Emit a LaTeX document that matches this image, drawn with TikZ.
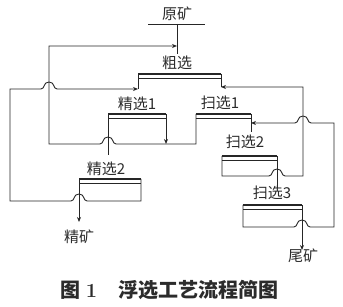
\documentclass[tikz,border=0pt]{standalone}
\usepackage{fontspec}
\newfontfamily\cjk{Noto Sans CJK SC}
\usepackage{tikz}
\usetikzlibrary{arrows.meta, calc}
\definecolor{fline}{HTML}{262626}
\definecolor{ftext}{HTML}{2B2B2B}
\tikzset{
  lbl/.style={font=\cjk\fontsize{15}{15}\selectfont, text=ftext, inner sep=0pt},
  captxt/.style={font=\cjk\bfseries\fontsize{20}{20}\selectfont, text=ftext, inner sep=0pt},
  flow/.style={draw=fline, line width=0.9pt},
  arr/.style={flow, -{Stealth[length=5pt, width=4pt]}},
  rarr/.style={flow, {Stealth[length=5pt, width=4pt]}-},
  celltop/.style={draw=fline, line width=2.2pt},
  cellin/.style={draw=fline, line width=0.6pt},
}
% jump over a crossing line; #2 = 1 going right, -1 going left
\newcommand{\hop}[2]{-- ($(#1)+({-8*#2},0)$) .. controls ($(#1)+({-4*#2},0)$) and ($(#1)+({-6*#2},-7)$) .. ($(#1)+(0,-7)$) .. controls ($(#1)+({6*#2},-7)$) and ($(#1)+({4*#2},0)$) .. ($(#1)+({8*#2},0)$)}
% flotation cell: double top line, corners named #1-l and #1-r
\newcommand{\cell}[4]{%
  \coordinate (#1-l) at (#2,#4);
  \coordinate (#1-r) at (#3,#4);
  \draw[celltop] (#1-l) -- (#1-r);
  \draw[cellin] ($(#1-l)+(0,4)$) -- ($(#1-r)+(0,4)$);
}

\begin{document}
\begin{tikzpicture}[x=1pt, y=-1pt]
  \useasboundingbox (0,0) rectangle (343,307);

  \node[lbl] (t-ore) at (177,14) {原矿};
  \node[lbl] (t-rough) at (177,63) {粗选};
  \node[lbl] (t-cln1) at (137,104) {精选1};
  \node[lbl] (t-scv1) at (220,103) {扫选1};
  \node[lbl] (t-scv2) at (245,142) {扫选2};
  \node[lbl] (t-cln2) at (106,169) {精选2};
  \node[lbl] (t-scv3) at (272,193) {扫选3};
  \node[lbl] (t-conc) at (79,237) {精矿};
  \node[lbl] (t-tail) at (303,256) {尾矿};

  \cell{rough}{138}{221}{74}
  \cell{cln1}{108}{166}{114}
  \cell{scv1}{196}{251}{114}
  \cell{scv2}{222}{277}{156}
  \cell{cln2}{79}{141}{179}
  \cell{scv3}{243}{302}{205}

  \coordinate (feedtop) at (177,24);
  \coordinate (feedbot) at (177,54);
  \coordinate (feedin) at (177,46);
  \coordinate (lowret) at (49,144);
  \coordinate (lft) at (10,201);
  \coordinate (rin) at (138,89);
  \coordinate (rt1) at (303,176);
  \coordinate (rin2) at (221,87);
  \coordinate (rt2) at (334,227);
  \coordinate (sin) at (251,123);

  % feed
  \draw[flow] ($(feedtop)+(-29,0)$) -- ($(feedtop)+(28,0)$);
  \draw[flow] (feedtop) -- (feedbot);
  \draw[rarr] (feedin) -- (lowret |- feedin) -- (lowret) \hop{cln1-l |- lowret}{1} -- (scv1-l |- lowret) -- (scv1-l);
  \draw[arr] (cln1-r) -- (cln1-r |- lowret);
  \draw[flow] (cln1-l) -- ++(0,41);

  % cleaner 2
  \draw[arr] (cln2-r) -- (cln2-r |- lft) \hop{cln2-l |- lft}{-1} -- (lft) -- (lft |- rin) \hop{lowret |- rin}{1} -- (rin);
  \draw[flow] (rough-l) -- (rin);
  \draw[arr] (cln2-l) -- ++(0,43);

  % scavengers
  \draw[arr] (scv2-l) -- (scv2-l |- rt1) \hop{scv2-r |- rt1}{1} -- (rt1) -- (rt1 |- rin2) -- (rin2);
  \draw[flow] (rough-r) -- (rin2);
  \draw[flow] (scv2-r) -- ++(0,32);
  \draw[arr] (scv3-l) -- (scv3-l |- rt2) \hop{scv3-r |- rt2}{1} -- (rt2) -- (rt2 |- sin) \hop{rt1 |- sin}{-1} -- (sin);
  \draw[flow] (scv1-r) -- ++(0,18);
  \draw[arr] (scv3-r) -- ++(0,45);

  \node[captxt] (fig) at (79,290) {图\hspace{5pt}{\rmfamily 1}};
  \node[captxt, anchor=west] (title) at (118,290) {浮选工艺流程简图};
\end{tikzpicture}
\end{document}
